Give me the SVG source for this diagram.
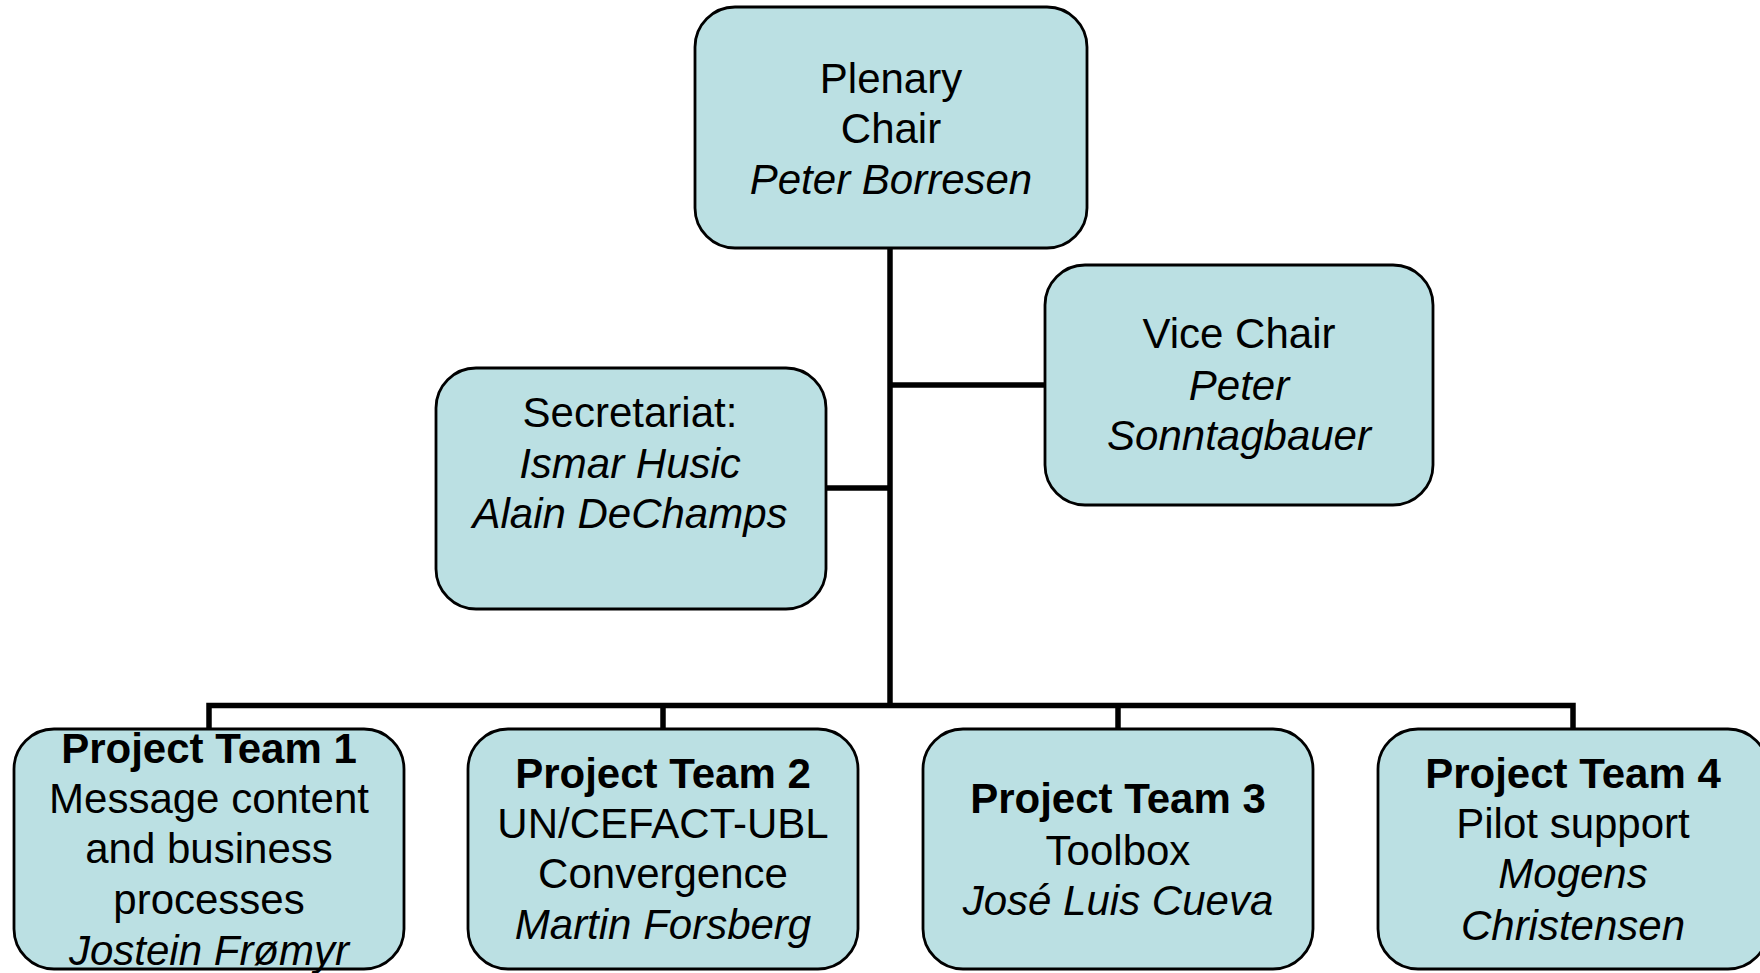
<svg xmlns="http://www.w3.org/2000/svg" width="1760" height="973" viewBox="0 0 1760 973">
<style>
.box{fill:#BBE0E3;stroke:#000;stroke-width:2.8}
.t{font-family:"Liberation Sans",Arial,sans-serif;font-size:42px;fill:#000;text-anchor:middle}
.i{font-style:italic}
.b{font-weight:bold}
.c{stroke:#000;stroke-width:5.5;fill:none}
</style>
<rect width="1760" height="973" fill="#fff"/>
<g id="connectors">
<line class="c" x1="890" y1="248" x2="890" y2="708"/>
<line class="c" x1="825" y1="488" x2="890" y2="488"/>
<line class="c" x1="890" y1="385" x2="1045" y2="385"/>
<polyline class="c" points="209,729 209,705.5 1573,705.5 1573,729"/>
<line class="c" x1="663" y1="705.5" x2="663" y2="729"/>
<line class="c" x1="1118" y1="705.5" x2="1118" y2="729"/>
</g>
<g id="plenary">
<rect class="box" x="695" y="7" width="392" height="241" rx="40"/>
<text class="t" x="891" y="93">Plenary</text>
<text class="t" x="891" y="143">Chair</text>
<text class="t i" x="891" y="194">Peter Borresen</text>
</g>
<g id="vice-chair">
<rect class="box" x="1045" y="265" width="388" height="240" rx="40"/>
<text class="t" x="1239" y="348">Vice Chair</text>
<text class="t i" x="1239" y="400">Peter</text>
<text class="t i" x="1239" y="450">Sonntagbauer</text>
</g>
<g id="secretariat">
<rect class="box" x="436" y="368" width="390" height="241" rx="40"/>
<text class="t" x="630" y="427">Secretariat:</text>
<text class="t i" x="630" y="478">Ismar Husic</text>
<text class="t i" x="630" y="528">Alain DeChamps</text>
</g>
<g id="pt1">
<rect class="box" x="14" y="729" width="390" height="240" rx="40"/>
<text class="t b" x="209" y="763">Project Team 1</text>
<text class="t" x="209" y="813">Message content</text>
<text class="t" x="209" y="863">and business</text>
<text class="t" x="209" y="914">processes</text>
<text class="t i" x="209" y="965">Jostein Frømyr</text>
</g>
<g id="pt2">
<rect class="box" x="468" y="729" width="390" height="240" rx="40"/>
<text class="t b" x="663" y="788">Project Team 2</text>
<text class="t" x="663" y="838">UN/CEFACT-UBL</text>
<text class="t" x="663" y="888">Convergence</text>
<text class="t i" x="663" y="939">Martin Forsberg</text>
</g>
<g id="pt3">
<rect class="box" x="923" y="729" width="390" height="240" rx="40"/>
<text class="t b" x="1118" y="813">Project Team 3</text>
<text class="t" x="1118" y="865">Toolbox</text>
<text class="t i" x="1118" y="915">José Luis Cueva</text>
</g>
<g id="pt4">
<rect class="box" x="1378" y="729" width="390" height="240" rx="40"/>
<text class="t b" x="1573" y="788">Project Team 4</text>
<text class="t" x="1573" y="838">Pilot support</text>
<text class="t i" x="1573" y="888">Mogens</text>
<text class="t i" x="1573" y="940">Christensen</text>
</g>
</svg>
